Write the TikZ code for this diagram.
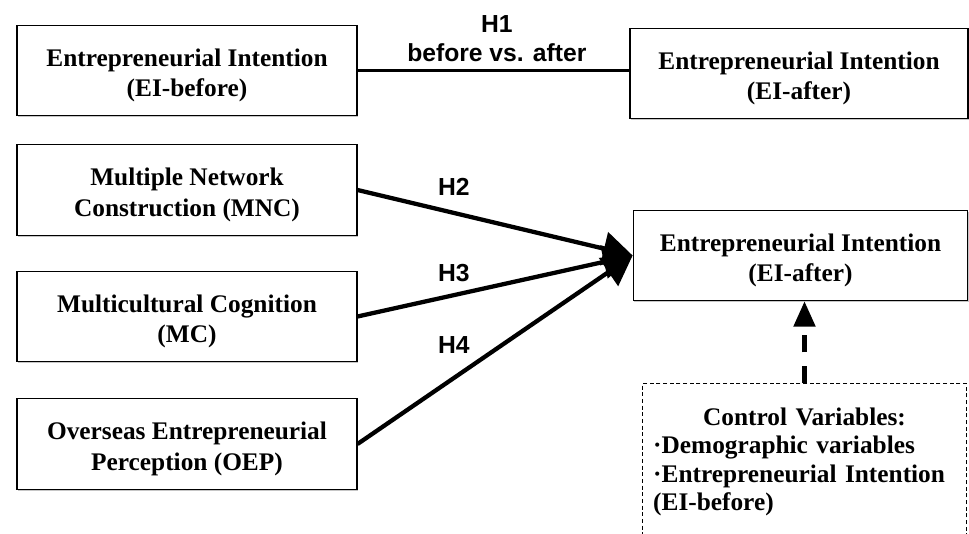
\documentclass[tikz,border=0pt]{standalone}
\usepackage{fontspec}
\setmainfont{Liberation Serif}
\setsansfont{Liberation Sans}
\usetikzlibrary{arrows.meta}
\usetikzlibrary{shadows}
\newcommand{\boxstrut}{\rule{0pt}{20.5pt}}
\tikzset{varbox/.style={draw, line width=0.8pt, fill=white,
  minimum width=255pt, minimum height=68pt, align=center,
  font=\fontsize{19}{23}\selectfont\bfseries,
  drop shadow={shadow xshift=0.8pt, shadow yshift=-1.2pt, opacity=0.45}},
 ctrlbox/.style={draw, line width=0.7pt, dash pattern=on 3pt off 2pt,
  text width=227pt, inner xsep=8pt, inner ysep=18pt, align=left,
  font=\fontsize{19}{21.4}\selectfont\bfseries},
 hyp/.style={font=\sffamily\bfseries\fontsize{18.5}{21.75}\selectfont, align=center},
 hyparrow/.style={line width=3.2pt, -{Triangle[length=22pt,width=25pt]}},
 ctrlarrow/.style={line width=3.2pt, dash pattern=on 13pt off 10pt,
  -{Triangle[length=19pt,width=16pt]}},
 }

\begin{document}
\begin{tikzpicture}[x=0.75pt,y=-0.75pt]
        \useasboundingbox (0,0) rectangle (969,534);
        % variables
        \node[varbox] (eibefore) at (187,70.5) {\boxstrut Entrepreneurial Intention\\(EI-before)};
        \node[varbox, minimum width=253.5pt] (eiaftertop) at (799,73.5) {\boxstrut Entrepreneurial Intention\\(EI-after)};
        \node[varbox] (mnc) at (187,190) {\boxstrut Multiple Network\\Construction (MNC)};
        \node[varbox] (mc) at (187,316.5) {\boxstrut Multicultural Cognition\\(MC)};
        \node[varbox] (oep) at (187,444) {\boxstrut Overseas Entrepreneurial\\Perception (OEP)};
        \node[varbox, minimum width=251pt] (eiafter) at (800.5,255.5) {\boxstrut Entrepreneurial Intention\\(EI-after)};
        \node[ctrlbox, anchor=north] (ctrl) at (804.5,383) {\parindent=0pt\centering Control Variables:\par
          \raggedright ·Demographic variables\par ·Entrepreneurial Intention\par (EI-before)};
        % hypotheses
        \draw[line width=2.5pt] (eibefore.east) -- (eibefore.east -| eiaftertop.west)
          node[hyp, midway, above=2pt, xshift=2.5pt] {H1\\before vs. after};
        \draw[hyparrow] (mnc.east) -- (eiafter.west) node[hyp, pos=0.35, above=8pt] {H2};
        \draw[hyparrow] (mc.east) -- (eiafter.west) node[hyp, pos=0.35, above=5.3pt] {H3};
        \draw[hyparrow] (oep.east) -- (eiafter.west) node[hyp, pos=0.35, above=13.6pt] {H4};
        \draw[ctrlarrow] (ctrl.north) -- (ctrl.north |- eiafter.south);
    \end{tikzpicture}
\end{document}
